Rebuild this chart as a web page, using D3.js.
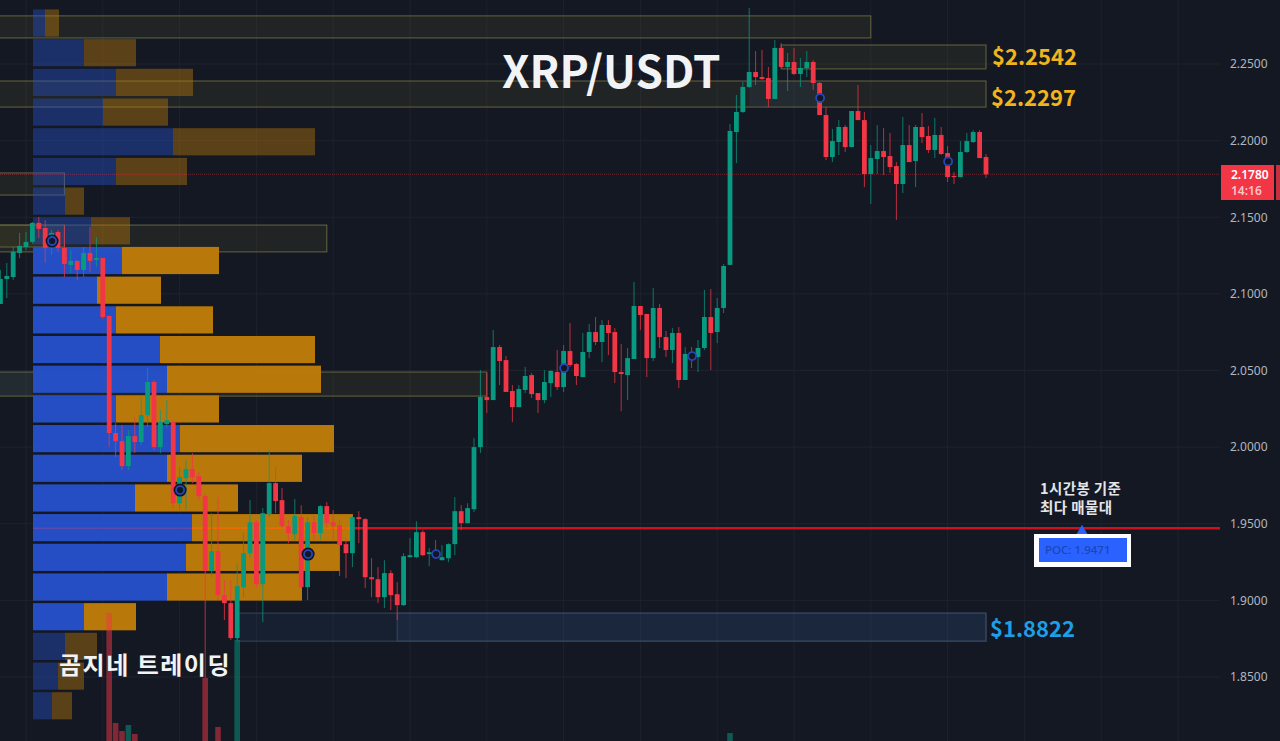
<!DOCTYPE html>
<html>
<head>
<meta charset="utf-8">
<script src="https://cdn.jsdelivr.net/npm/d3@7"></script>
<style>
  html, body { margin: 0; padding: 0; background: #141823; overflow: hidden; }
  svg { display: block; }
</style>
</head>
<body>
<div id="canvas"></div>
<script>
const chart_Width = 1280;
const chart_Height = 741;
const plot_Right = 1220;

// 1H candles
const opens = [
  2.0934,2.1097,2.1110,2.1267,2.1306,2.1339,2.1463,2.1430,2.1319,2.1404,
  2.1300,2.1189,2.1215,2.1156,2.1267,2.1221,2.1234,2.0856,2.0092,2.0039,
  1.9876,2.0072,2.0033,2.0209,2.0425,2.0000,2.0150,2.0163,1.9634,1.9798,
  1.9857,1.9811,1.9680,1.9191,1.9321,1.9034,1.8982,1.8754,1.9086,1.9308,
  1.9510,1.9106,1.9563,1.9765,1.9654,1.9484,1.9432,1.9543,1.9086,1.9510,
  1.9439,1.9615,1.9510,1.9491,1.9367,1.9308,1.9543,1.9530,1.9151,1.9138,
  1.9021,1.9178,1.9040,1.8969,1.9282,1.9282,1.9445,1.9302,1.9308,1.9262,
  1.9275,1.9367,1.9582,1.9504,1.9595,2.0000,2.0327,2.0307,2.0653,2.0568,
  2.0366,2.0261,2.0373,2.0470,2.0353,2.0307,2.0418,2.0490,2.0392,2.0627,
  2.0542,2.0457,2.0621,2.0751,2.0686,2.0797,2.0751,2.0490,2.0470,2.0575,
  2.0921,2.0869,2.0581,2.0908,2.0718,2.0634,2.0745,2.0438,2.0621,2.0588,
  2.0647,2.0849,2.0751,2.0908,2.1189,2.2056,2.2187,2.2350,2.2448,2.2415,
  2.2409,2.2272,2.2605,2.2481,2.2513,2.2435,2.2474,2.2513,2.2376,2.2167,
  2.1893,2.1991,2.2089,2.1958,2.2193,2.2134,2.1782,2.1880,2.1932,2.1899,
  2.1834,2.1717,2.1971,2.1867,2.2089,2.2030,2.1939,2.2037,2.1919,2.1769,
  2.1762,2.1926,2.1991,2.2056,2.1893
];
const highs = [
  2.1156,2.1202,2.1306,2.1398,2.1404,2.1469,2.1502,2.1482,2.1417,2.1417,
  2.1450,2.1287,2.1221,2.1306,2.1437,2.1371,2.1234,2.0856,2.0157,2.0144,
  2.0111,2.0196,2.0327,2.0516,2.0438,2.0242,2.0307,2.0176,1.9870,1.9915,
  1.9961,1.9837,1.9693,1.9569,1.9674,1.9132,1.9132,1.9243,1.9439,1.9654,
  1.9523,1.9602,1.9981,1.9870,1.9733,1.9523,1.9661,1.9621,1.9543,1.9556,
  1.9621,1.9641,1.9589,1.9523,1.9406,1.9556,1.9582,1.9537,1.9275,1.9217,
  1.9262,1.9197,1.9119,1.9308,1.9406,1.9517,1.9458,1.9341,1.9393,1.9360,
  1.9373,1.9674,1.9621,1.9634,2.0059,2.0503,2.0484,2.0764,2.0666,2.0594,
  2.0405,2.0405,2.0523,2.0484,2.0353,2.0503,2.0503,2.0634,2.0666,2.0810,
  2.0549,2.0745,2.0803,2.0849,2.0829,2.0829,2.0777,2.0673,2.0647,2.1078,
  2.0921,2.0869,2.1039,2.0934,2.0758,2.0777,2.0784,2.0653,2.0653,2.0699,
  2.1026,2.1032,2.0973,2.1195,2.2108,2.2298,2.2383,2.2866,2.2585,2.2592,
  2.2481,2.2657,2.2637,2.2572,2.2605,2.2539,2.2585,2.2526,2.2383,2.2219,
  2.2076,2.2134,2.2102,2.2193,2.2363,2.2187,2.1971,2.2102,2.2082,2.2050,
  2.1860,2.2154,2.2102,2.2102,2.2180,2.2095,2.2148,2.2089,2.1965,2.1795,
  2.1997,2.2050,2.2069,2.2069,2.1913
];
const lows = [
  2.0934,2.0973,2.1091,2.1234,2.1287,2.1326,2.1365,2.1202,2.1254,2.1274,
  2.1110,2.1137,2.1091,2.1110,2.1143,2.1176,2.0836,2.0000,1.9935,1.9850,
  1.9850,1.9961,2.0013,2.0131,1.9981,1.9961,2.0124,1.9602,1.9589,1.9589,
  1.9765,1.9654,1.8493,1.9151,1.9002,1.8871,1.8741,1.8741,1.9021,1.9282,
  1.9086,1.8858,1.9543,1.9569,1.9471,1.9373,1.9393,1.9080,1.9002,1.9393,
  1.9393,1.9471,1.9393,1.9158,1.9145,1.9217,1.9373,1.9080,1.9021,1.8982,
  1.8950,1.8937,1.8871,1.8963,1.9282,1.9275,1.9288,1.9223,1.9275,1.9262,
  1.9249,1.9295,1.9458,1.9504,1.9576,1.9961,2.0222,2.0307,2.0405,2.0360,
  2.0163,2.0261,2.0353,2.0320,2.0222,2.0287,2.0327,2.0373,2.0360,2.0523,
  2.0405,2.0457,2.0581,2.0666,2.0555,2.0601,2.0418,2.0235,2.0307,2.0575,
  2.0764,2.0457,2.0562,2.0647,2.0588,2.0549,2.0386,2.0438,2.0516,2.0490,
  2.0634,2.0503,2.0679,2.0875,2.1189,2.1854,2.2180,2.2344,2.2363,2.2396,
  2.2219,2.2272,2.2474,2.2324,2.2428,2.2350,2.2415,2.2331,2.2167,2.1873,
  2.1860,2.1906,2.1926,2.1958,2.2134,2.1697,2.1587,2.1782,2.1775,2.1789,
  2.1482,2.1658,2.1860,2.1697,2.1984,2.1919,2.1886,2.1906,2.1730,2.1717,
  2.1762,2.1919,2.1984,2.1886,2.1756
];
const closes = [
  2.1097,2.1117,2.1274,2.1313,2.1339,2.1463,2.1424,2.1300,2.1398,2.1300,
  2.1195,2.1215,2.1156,2.1267,2.1215,2.1234,2.0849,2.0092,2.0039,1.9876,
  2.0072,2.0033,2.0209,2.0425,2.0000,2.0163,2.0176,1.9634,1.9804,1.9857,
  1.9804,1.9680,1.9191,1.9321,1.9034,1.8982,1.8754,1.9093,1.9308,1.9510,
  1.9106,1.9569,1.9765,1.9648,1.9484,1.9439,1.9550,1.9086,1.9510,1.9439,
  1.9615,1.9504,1.9484,1.9360,1.9308,1.9543,1.9530,1.9151,1.9138,1.9021,
  1.9178,1.9034,1.8969,1.9288,1.9295,1.9445,1.9295,1.9314,1.9295,1.9282,
  1.9367,1.9582,1.9504,1.9602,2.0000,2.0327,2.0307,2.0653,2.0562,2.0360,
  2.0261,2.0379,2.0464,2.0346,2.0307,2.0425,2.0497,2.0392,2.0627,2.0536,
  2.0464,2.0621,2.0751,2.0686,2.0797,2.0745,2.0490,2.0477,2.0581,2.0921,
  2.0862,2.0581,2.0908,2.0718,2.0634,2.0745,2.0438,2.0608,2.0568,2.0647,
  2.0849,2.0745,2.0908,2.1182,2.2063,2.2187,2.2350,2.2448,2.2415,2.2402,
  2.2272,2.2605,2.2481,2.2513,2.2435,2.2474,2.2513,2.2376,2.2167,2.1893,
  2.1997,2.2089,2.1958,2.2193,2.2134,2.1782,2.1886,2.1932,2.1893,2.1828,
  2.1717,2.1971,2.1860,2.2089,2.2023,2.1939,2.2037,2.1913,2.1762,2.1762,
  2.1926,2.1997,2.2056,2.1886,2.1780
];

// 볼륨 (only the bars that stick up from the bottom edge)
const volume_Index = [17, 18, 19, 20, 21, 32, 34, 37, 114];
const volume_Values = [132, 22, 14, 20, 11, 67, 18, 105, 12];

// 매물대 (top row first)
const profile_Top = 2.2856;
const profile_Step = 0.01937;
const profile_Buy = [12,51,83,70,140,83,32,58,89,64,83,127,134,83,147,134,102,159,153,134,51,32,25,19];
const profile_Sell = [14,52,77,65,142,71,19,39,97,64,97,155,154,103,154,135,103,161,154,135,52,32,26,20];
const value_Area_First = 8;
const value_Area_Last = 20;

// 박스: start / end candle, top / bottom price
const olive_Start = [-1, 122, -1, -1, -1, -1, -1];
const olive_End = [136, 154, 154, 10, 51, 10, 76];
const olive_Top = [2.2814, 2.2624, 2.2389, 2.1789, 2.1449, 2.1449, 2.0490];
const olive_Bottom = [2.2670, 2.2468, 2.2219, 2.1645, 2.1274, 2.1306, 2.0333];

const blue_Start = [37, 62, 117, -1];
const blue_End = [154, 154, 128, 5];
const blue_Top = [1.8917, 1.8917, 2.2389, 2.0490];
const blue_Bottom = [1.8734, 1.8734, 2.2219, 2.0333];

const marker_Index = [8, 28, 48, 68, 88, 108, 128, 148];
const marker_Price = [2.1345, 1.9720, 1.9302, 1.9302, 2.0516, 2.0594, 2.2278, 2.1864];

const price_Ticks = [2.25, 2.2, 2.15, 2.1, 2.05, 2, 1.95, 1.9, 1.85];
const time_Ticks = d3.range(4, 185, 12);
const last_Price = 2.178;
const poc_Price = 1.9471;

const candle_Up = "#089981";
const candle_Down = "#f23645";
const font_Kr = "'Noto Sans CJK KR', 'Noto Sans', sans-serif";

// 스케일
const x = d3.scaleLinear().domain([0, 154]).range([0.4, 986]);
const y = d3.scaleLinear().domain([1.85, 2.25]).range([677, 64]);
const volume_Y = d3.scaleLinear().domain([0, 130]).range([745, 615]);
const profile_X = d3.scaleLinear().domain([0, 301]).range([33, 334]);

const candles = opens.map((open, i) => ({
  i,
  open,
  high: highs[i],
  low: lows[i],
  close: closes[i],
  color: closes[i] >= open ? candle_Up : candle_Down
}));

const svg = d3
  .select("#canvas")
  .append("svg")
  .attr("width", chart_Width)
  .attr("height", chart_Height)
  .style("background", "#141823");

// 그리드
svg
  .append("g")
  .selectAll("line")
  .data(price_Ticks)
  .join("line")
  .attr("x1", 0)
  .attr("x2", plot_Right)
  .attr("y1", d => y(d))
  .attr("y2", d => y(d))
  .attr("stroke", "#1e222d");

svg
  .append("g")
  .selectAll("line")
  .data(time_Ticks)
  .join("line")
  .attr("x1", d => x(d))
  .attr("x2", d => x(d))
  .attr("y1", 0)
  .attr("y2", chart_Height)
  .attr("stroke", "#1e222d");

// price axis
const axis = svg
  .append("g")
  .attr("transform", `translate(${plot_Right},0)`)
  .call(d3.axisRight(y).tickValues(price_Ticks).tickFormat(d3.format(".4f")).tickSize(0).tickPadding(10));
axis.select(".domain").remove();
axis
  .selectAll("text")
  .style("font-family", "'Noto Sans', sans-serif")
  .style("font-size", "12px")
  .attr("fill", "#b2b5be");

// 박스
svg
  .append("g")
  .selectAll("rect")
  .data(olive_Start)
  .join("rect")
  .attr("x", d => x(d))
  .attr("width", (d, i) => x(olive_End[i]) - x(d))
  .attr("y", (d, i) => y(olive_Top[i]))
  .attr("height", (d, i) => y(olive_Bottom[i]) - y(olive_Top[i]))
  .attr("fill", "#9a9030")
  .attr("fill-opacity", 0.1)
  .attr("stroke", "#65643f");

svg
  .append("g")
  .selectAll("rect")
  .data(blue_Start)
  .join("rect")
  .attr("x", d => x(d))
  .attr("width", (d, i) => x(blue_End[i]) - x(d))
  .attr("y", (d, i) => y(blue_Top[i]))
  .attr("height", (d, i) => y(blue_Bottom[i]) - y(blue_Top[i]))
  .attr("fill", "#3a6ea5")
  .attr("fill-opacity", 0.1)
  .attr("stroke", (d, i) => (i < 2 ? "#36465e" : "none"));

// POC line
svg
  .append("line")
  .attr("x1", 352)
  .attr("x2", plot_Right)
  .attr("y1", y(poc_Price))
  .attr("y2", y(poc_Price))
  .attr("stroke", "#d0101a")
  .attr("stroke-width", 2.4);

// 매물대
const profile_Rows = profile_Buy.map((buy, i) => ({
  i,
  buy,
  sell: profile_Sell[i],
  top: profile_Top - i * profile_Step,
  solid: i >= value_Area_First && i <= value_Area_Last
}));

const rows = svg
  .append("g")
  .selectAll("g")
  .data(profile_Rows)
  .join("g")
  .attr("opacity", d => (d.solid ? 0.98 : 0.42));

rows
  .append("rect")
  .attr("x", profile_X(0))
  .attr("y", d => y(d.top))
  .attr("width", d => profile_X(d.buy) - profile_X(0))
  .attr("height", d => y(d.top - profile_Step) - y(d.top) - 2.5)
  .attr("fill", "#2650c8");

rows
  .append("rect")
  .attr("x", d => profile_X(d.buy))
  .attr("y", d => y(d.top))
  .attr("width", d => profile_X(d.buy + d.sell) - profile_X(d.buy))
  .attr("height", d => y(d.top - profile_Step) - y(d.top) - 2.5)
  .attr("fill", "#bd7a0a");

// POC inside the profile
svg
  .append("line")
  .attr("x1", 33)
  .attr("x2", 192)
  .attr("y1", y(poc_Price))
  .attr("y2", y(poc_Price))
  .attr("stroke", "#9a4a9a")
  .attr("stroke-opacity", 0.7);
svg
  .append("line")
  .attr("x1", 192)
  .attr("x2", 352)
  .attr("y1", y(poc_Price))
  .attr("y2", y(poc_Price))
  .attr("stroke", "#ff6a00")
  .attr("stroke-width", 1.3)
  .attr("stroke-dasharray", "6 1");

// 볼륨
svg
  .append("g")
  .selectAll("rect")
  .data(volume_Index)
  .join("rect")
  .attr("x", d => x(d) - 2.8)
  .attr("width", 5.6)
  .attr("y", (d, i) => volume_Y(volume_Values[i]))
  .attr("height", (d, i) => volume_Y(0) - volume_Y(volume_Values[i]))
  .attr("fill", d => candles[d].color)
  .attr("opacity", 0.5);

// 캔들
const candle_G = svg
  .append("g")
  .selectAll("g")
  .data(candles)
  .join("g");

candle_G
  .append("line")
  .attr("x1", d => x(d.i))
  .attr("x2", d => x(d.i))
  .attr("y1", d => y(d.high))
  .attr("y2", d => y(d.low))
  .attr("stroke", d => d.color)
  .attr("stroke-opacity", 0.75);

candle_G
  .append("rect")
  .attr("x", d => x(d.i) - 2.4)
  .attr("width", 4.8)
  .attr("y", d => y(Math.max(d.open, d.close)))
  .attr("height", d => Math.max(1, Math.abs(y(d.open) - y(d.close))))
  .attr("fill", d => d.color);

// 현재가 line
svg
  .append("line")
  .attr("x1", 0)
  .attr("x2", plot_Right)
  .attr("y1", y(last_Price))
  .attr("y2", y(last_Price))
  .attr("stroke", candle_Down)
  .attr("stroke-opacity", 0.4)
  .attr("stroke-dasharray", "1 1");

// 마커
const marker_G = svg
  .append("g")
  .selectAll("g")
  .data(marker_Index)
  .join("g")
  .attr("transform", (d, i) => `translate(${x(d) + 0.5},${y(marker_Price[i])})`);

marker_G
  .filter((d, i) => i < 3)
  .append("circle")
  .attr("r", 6.5)
  .attr("fill", "#0e1428");

marker_G
  .append("circle")
  .attr("r", 4)
  .attr("fill", "#131722")
  .attr("stroke", "#2448b8")
  .attr("stroke-width", 1.8);

// 현재가 label
svg
  .append("rect")
  .attr("x", 1221)
  .attr("y", 165)
  .attr("width", 53)
  .attr("height", 35)
  .attr("fill", candle_Down);
svg
  .append("rect")
  .attr("x", 1276)
  .attr("y", 165)
  .attr("width", 4)
  .attr("height", 35)
  .attr("fill", candle_Down)
  .attr("opacity", 0.8);
svg
  .append("text")
  .attr("x", 1231)
  .attr("y", 179)
  .attr("fill", "#ffffff")
  .style("font", "600 12px 'Noto Sans', sans-serif")
  .text(last_Price.toFixed(4));
svg
  .append("text")
  .attr("x", 1231)
  .attr("y", 195)
  .attr("fill", "#fcc5ca")
  .style("font", "600 12px 'Noto Sans', sans-serif")
  .text("14:16");

// 주석
const addText = (label, px, py, size, weight, color, spacing = 0) =>
  svg
    .append("text")
    .attr("x", px)
    .attr("y", py)
    .attr("fill", color)
    .style("font-family", font_Kr)
    .style("font-size", size + "px")
    .style("font-weight", weight)
    .style("letter-spacing", spacing + "px")
    .text(label);

addText("XRP/USDT", 502, 88, 44, 700, "#f2f3f5");
addText("$2.2542", 992, 65, 22, 700, "#f0b41c");
addText("$2.2297", 991, 106, 22, 700, "#f0b41c");
addText("$1.8822", 990, 637, 22, 700, "#1c9fe6");
addText("곰지네 트레이딩", 59, 674, 24, 700, "#f2f3f5", 1.5);
addText("1시간봉 기준", 1040, 494, 14.5, 700, "#e4e5e8", 0.4);
addText("최다 매물대", 1040, 513, 14.5, 700, "#e4e5e8", 0.4);

// POC label
svg
  .append("path")
  .attr("d", d3.symbol(d3.symbolTriangle, 50))
  .attr("transform", "translate(1082,531)")
  .attr("fill", "#2962ff");
svg
  .append("rect")
  .attr("x", 1034)
  .attr("y", 534)
  .attr("width", 97)
  .attr("height", 33)
  .attr("fill", "#ffffff");
svg
  .append("rect")
  .attr("x", 1039)
  .attr("y", 538)
  .attr("width", 88)
  .attr("height", 24)
  .attr("fill", "#2962ff");
svg
  .append("text")
  .attr("x", 1045)
  .attr("y", 554)
  .attr("fill", "#1c46b4")
  .style("font", "500 11.5px 'Noto Sans', sans-serif")
  .text("POC: " + poc_Price.toFixed(4));
</script>
</body>
</html>
